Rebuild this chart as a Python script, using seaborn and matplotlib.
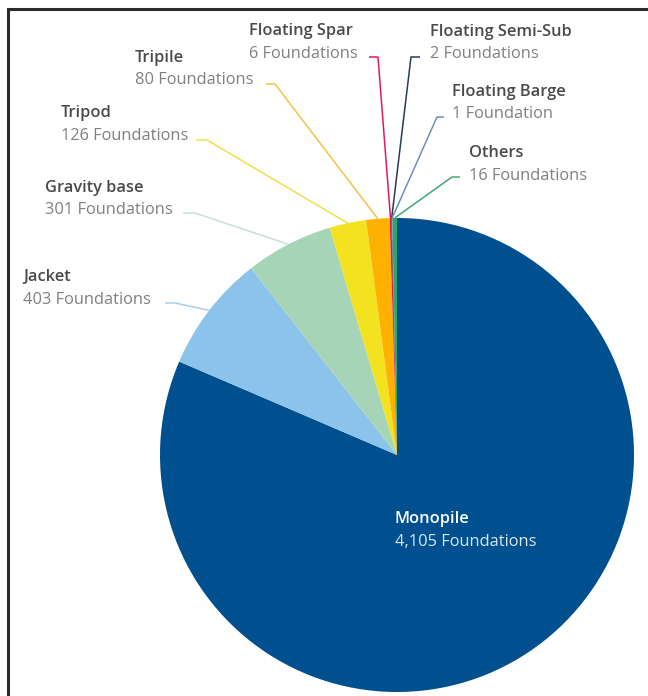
import numpy as np
import matplotlib
matplotlib.use("Agg")
import matplotlib.pyplot as plt
import seaborn as sns

# ---- data ----
categories = ["Monopile", "Jacket", "Gravity base", "Tripod", "Tripile",
              "Floating Spar", "Floating Semi-Sub", "Floating Barge", "Others"]
values = [4105, 403, 301, 126, 80, 6, 2, 1, 16]
value_labels = ["4,105 Foundations", "403 Foundations", "301 Foundations",
                "126 Foundations", "80 Foundations", "6 Foundations",
                "2 Foundations", "1 Foundation", "16 Foundations"]
colors = ["#00508F", "#8CC3EA", "#A6D4B6", "#F3E21F", "#FFB100",
          "#E5185A", "#1E2F4F", "#6C8FB7", "#2DA56B"]
line_colors = ["#00508F", "#A9CDEB", "#C6E0D3", "#F0E04A", "#F4C14A",
               "#E5185A", "#2B3A55", "#6C8FB7", "#3DAA74"]

sns.set_theme(style="white")
plt.rcParams['font.family'] = ['Open Sans', 'DejaVu Sans']

W, H = 648, 696
fig = plt.figure(figsize=(W / 100, H / 100), dpi=100)
ax = fig.add_axes([0, 0, 1, 1])

cx, cy, R = 397, H - 455, 237
wedges, _ = ax.pie(values, colors=colors, startangle=90, counterclock=False,
                   center=(cx, cy), radius=R, frame=True,
                   wedgeprops=dict(linewidth=0, antialiased=True))
ax.set_xlim(0, W)
ax.set_ylim(0, H)
ax.axis("off")

FS = 11.8
# label layout: (text x, name y (px from top), elbow start x, elbow end x, elbow y)
layout = {
    "Jacket":            (23, 277, 175, 165, 303),
    "Gravity base":      (45, 188, 195, 183, 213),
    "Tripod":            (61, 113, 207, 196, 140),
    "Tripile":           (135, 58, 275, 266, 84),
    "Floating Spar":     (249, 31, 378, 369, 57),
    "Floating Semi-Sub": (430, 32, 411, 420, 57),
    "Floating Barge":    (452, 92, 437, 444, 117),
    "Others":            (469, 153, 452, 460, 177),
}

for i, (cat, w) in enumerate(zip(categories, wedges)):
    if cat == "Monopile":
        ax.text(395, H - 519, cat, color="white", fontsize=FS, fontweight="semibold",
                ha="left", va="center")
        ax.text(395, H - 542, value_labels[i], color="#DCE6F0", fontsize=FS,
                ha="left", va="center")
        continue
    tx, ny, ex0, ex1, ey = layout[cat]
    mid = np.deg2rad((w.theta1 + w.theta2) / 2)
    px, py = cx + R * np.cos(mid), cy + R * np.sin(mid)
    ax.plot([px, ex0, ex1], [py, H - ey, H - ey], color=line_colors[i], lw=1.1,
            solid_capstyle="butt", zorder=0)
    ax.text(tx, H - ny, cat, color="#4A4A4A", fontsize=FS, fontweight="semibold",
            ha="left", va="center")
    ax.text(tx, H - ny - 22.5, value_labels[i], color="#808080", fontsize=FS,
            ha="left", va="center")

# frame
ax.plot([8, 8, W], [0, H - 9, H - 9], color="#2B2B2B", lw=2.2,
        solid_joinstyle="miter", clip_on=False)

fig.savefig("out.png", dpi=100)
